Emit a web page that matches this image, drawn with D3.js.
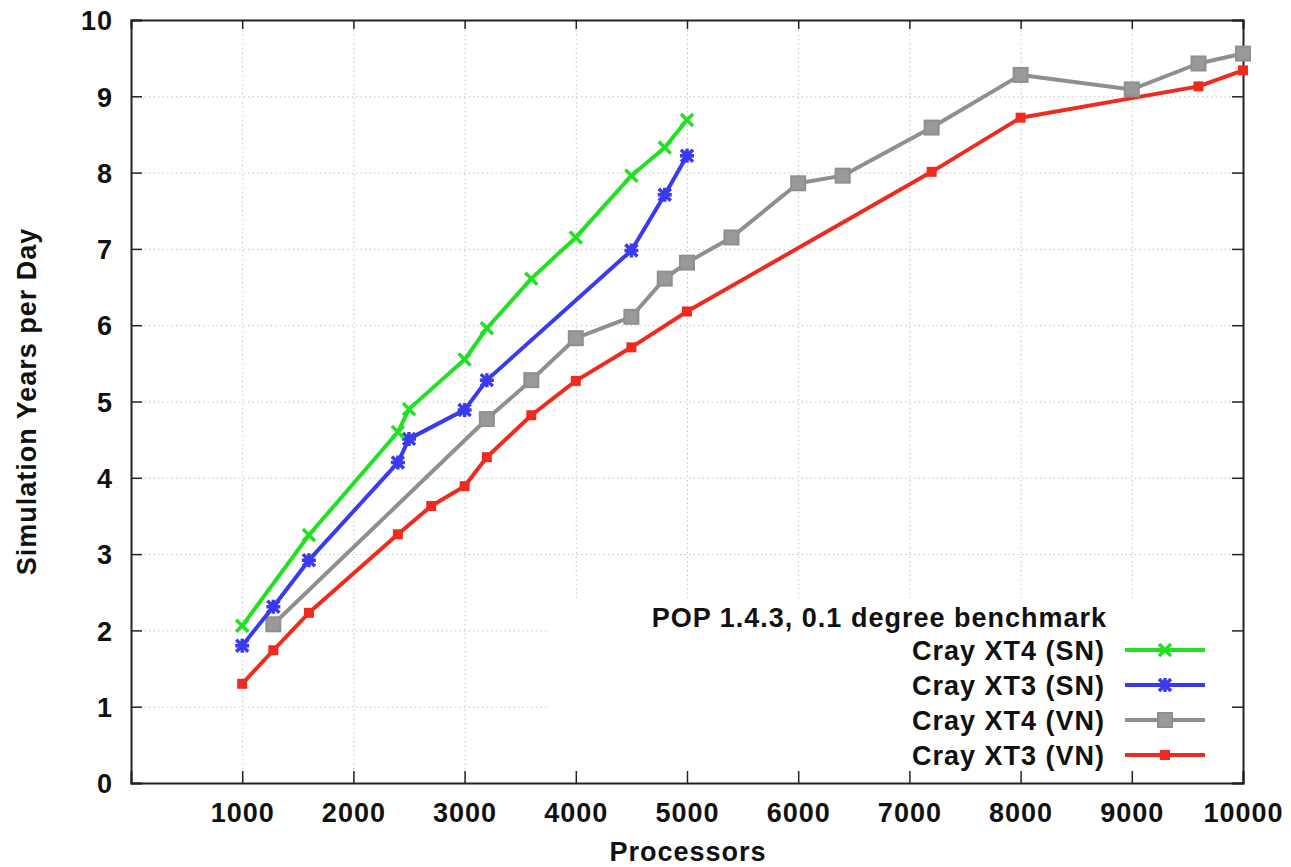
<!DOCTYPE html>
<html>
<head>
<meta charset="utf-8">
<script src="https://cdn.jsdelivr.net/npm/d3@7"></script>
<style>
  body { margin: 0; background: #fff; }
  svg text { font-family: "Liberation Sans", Arial, sans-serif; font-weight: bold; letter-spacing: 1px; fill: #111; }
</style>
</head>
<body>
<svg></svg>
<script>
let width = 1291;
let height = 867;

let plotLeft = 131, plotRight = 1243, plotTop = 20, plotBottom = 783;

let xTicks = [1000, 2000, 3000, 4000, 5000, 6000, 7000, 8000, 9000, 10000];
let yTicks = [0, 1, 2, 3, 4, 5, 6, 7, 8, 9, 10];

// Cray XT4 (SN)
let xt4snX = [1000, 1600, 2400, 2500, 3000, 3200, 3600, 4000, 4500, 4800, 5000];
let xt4snY = [2.06, 3.25, 4.60, 4.90, 5.55, 5.96, 6.61, 7.15, 7.96, 8.33, 8.69];
// Cray XT3 (SN)
let xt3snX = [1000, 1280, 1600, 2400, 2500, 3000, 3200, 4500, 4800, 5000];
let xt3snY = [1.80, 2.31, 2.92, 4.20, 4.51, 4.89, 5.28, 6.98, 7.71, 8.22];
// Cray XT4 (VN)
let xt4vnX = [1280, 3200, 3600, 4000, 4500, 4800, 5000, 5400, 6000, 6400, 7200, 8000, 9000, 9600, 10000];
let xt4vnY = [2.08, 4.77, 5.28, 5.83, 6.11, 6.61, 6.82, 7.15, 7.86, 7.96, 8.59, 9.28, 9.09, 9.43, 9.56];
// Cray XT3 (VN)
let xt3vnX = [1000, 1280, 1600, 2400, 2700, 3000, 3200, 3600, 4000, 4500, 5000, 7200, 8000, 9600, 10000];
let xt3vnY = [1.30, 1.74, 2.23, 3.26, 3.63, 3.89, 4.27, 4.82, 5.27, 5.71, 6.18, 8.01, 8.72, 9.13, 9.34];

let seriesNames = ["Cray XT4 (SN)", "Cray XT3 (SN)", "Cray XT4 (VN)", "Cray XT3 (VN)"];
let seriesColors = ["#22e022", "#3a3af0", "#8f8f8f", "#ef2a1e"];
let seriesMarkers = ["cross", "star", "bigsquare", "square"];

let legendTitle = "POP 1.4.3, 0.1 degree benchmark";

let series = [
    { x: xt4snX, y: xt4snY },
    { x: xt3snX, y: xt3snY },
    { x: xt4vnX, y: xt4vnY },
    { x: xt3vnX, y: xt3vnY }
].map((s, i) => ({
    name: seriesNames[i],
    color: seriesColors[i],
    marker: seriesMarkers[i],
    points: s.x.map((v, j) => [v, s.y[j]])
}));

let svg = d3.select("svg").attr("width", width).attr("height", height);

let xScale = d3.scaleLinear().domain([0, 10000]).range([plotLeft, plotRight]);
let yScale = d3.scaleLinear().domain([0, 10]).range([plotBottom, plotTop]);

// grid
svg.append("g")
   .attr("transform", `translate(0, ${plotBottom})`)
   .call(d3.axisBottom(xScale).tickValues(xTicks.slice(0, -1)).tickSize(-(plotBottom - plotTop)).tickFormat(""))
   .call(g => g.select(".domain").remove())
   .selectAll("line")
   .attr("stroke", "#c4c4c4")
   .attr("stroke-dasharray", "1.5,3");

svg.append("g")
   .attr("transform", `translate(${plotLeft}, 0)`)
   .call(d3.axisLeft(yScale).tickValues(yTicks.slice(1, -1)).tickSize(-(plotRight - plotLeft)).tickFormat(""))
   .call(g => g.select(".domain").remove())
   .selectAll("line")
   .attr("stroke", "#c4c4c4")
   .attr("stroke-dasharray", "1.5,3");

// white legend background
svg.append("rect")
   .attr("x", 548).attr("y", 598)
   .attr("width", plotRight - 548).attr("height", plotBottom - 598)
   .attr("fill", "#fff");

// axes with inward ticks
let xAxis = svg.append("g")
   .attr("class", "frame")
   .attr("transform", `translate(0, ${plotBottom})`)
   .call(d3.axisBottom(xScale).tickValues(xTicks).tickSize(-12).tickPadding(0).tickFormat(d3.format("d")));
xAxis.selectAll("text").attr("y", 39).attr("dy", 0).attr("font-size", 27);

svg.append("g")
   .attr("class", "frame")
   .attr("transform", `translate(0, ${plotTop})`)
   .call(d3.axisTop(xScale).tickValues(xTicks).tickSize(-9).tickFormat(""));

let yAxis = svg.append("g")
   .attr("class", "frame")
   .attr("transform", `translate(${plotLeft}, 0)`)
   .call(d3.axisLeft(yScale).tickValues(yTicks).tickSize(-11).tickPadding(0).tickFormat(d3.format("d")));
yAxis.selectAll("text").attr("x", -18).attr("dy", "0.36em").attr("font-size", 27);

svg.append("g")
   .attr("class", "frame")
   .attr("transform", `translate(${plotRight}, 0)`)
   .call(d3.axisRight(yScale).tickValues(yTicks).tickSize(-11).tickFormat(""));

svg.selectAll(".frame .domain").attr("stroke", "#222").attr("stroke-width", 2);
svg.selectAll(".frame .tick line").attr("stroke", "#222").attr("stroke-width", 1.5);

// axis titles
svg.append("text")
   .attr("x", (plotLeft + plotRight) / 2 + 1)
   .attr("y", 861)
   .attr("text-anchor", "middle")
   .attr("font-size", 27)
   .text("Processors");

svg.append("text")
   .attr("transform", `translate(36, ${(225 + 578) / 2}) rotate(-90)`)
   .attr("text-anchor", "middle")
   .attr("font-size", 27)
   .text("Simulation Years per Day");

// markers
function drawMarker(g, type, color, cx, cy) {
    if (type === "cross") {
        let r = 6;
        g.append("path")
         .attr("d", `M${cx - r},${cy - r}L${cx + r},${cy + r}M${cx - r},${cy + r}L${cx + r},${cy - r}`)
         .attr("stroke", color).attr("stroke-width", 3.5).attr("fill", "none");
    } else if (type === "star") {
        let r = 6;
        g.append("path")
         .attr("d", `M${cx - r},${cy - r}L${cx + r},${cy + r}M${cx - r},${cy + r}L${cx + r},${cy - r}M${cx},${cy - r - 1}L${cx},${cy + r + 1}M${cx - r - 1},${cy}L${cx + r + 1},${cy}`)
         .attr("stroke", color).attr("stroke-width", 3.5).attr("fill", "none");
    } else if (type === "bigsquare") {
        let s = 14;
        g.append("rect")
         .attr("x", cx - s / 2).attr("y", cy - s / 2)
         .attr("width", s).attr("height", s)
         .attr("fill", "#999").attr("stroke", color).attr("stroke-width", 2);
    } else {
        let s = 10;
        g.append("rect")
         .attr("x", cx - s / 2).attr("y", cy - s / 2)
         .attr("width", s).attr("height", s)
         .attr("fill", color);
    }
}

let line = d3.line().x(d => xScale(d[0])).y(d => yScale(d[1]));

// draw in reverse so green is on top
series.slice().reverse().forEach(s => {
    let g = svg.append("g");
    g.append("path")
     .attr("d", line(s.points))
     .attr("fill", "none")
     .attr("stroke", s.color)
     .attr("stroke-width", 4)
     .attr("stroke-linejoin", "round");
    s.points.forEach(p => drawMarker(g, s.marker, s.color, xScale(p[0]), yScale(p[1])));
});

// legend
let legendTextX = 1105;
svg.append("text")
   .attr("x", legendTextX + 2)
   .attr("y", 627)
   .attr("text-anchor", "end")
   .attr("font-size", 27)
   .text(legendTitle);

let legendRows = [650, 685, 720, 755];
series.forEach((s, i) => {
    let cy = legendRows[i];
    let g = svg.append("g");
    g.append("text")
     .attr("x", legendTextX)
     .attr("y", cy + 10)
     .attr("text-anchor", "end")
     .attr("font-size", 27)
     .text(s.name);
    g.append("line")
     .attr("x1", 1125).attr("x2", 1205)
     .attr("y1", cy).attr("y2", cy)
     .attr("stroke", s.color).attr("stroke-width", 4);
    drawMarker(g, s.marker, s.color, 1165, cy);
});
</script>
</body>
</html>
